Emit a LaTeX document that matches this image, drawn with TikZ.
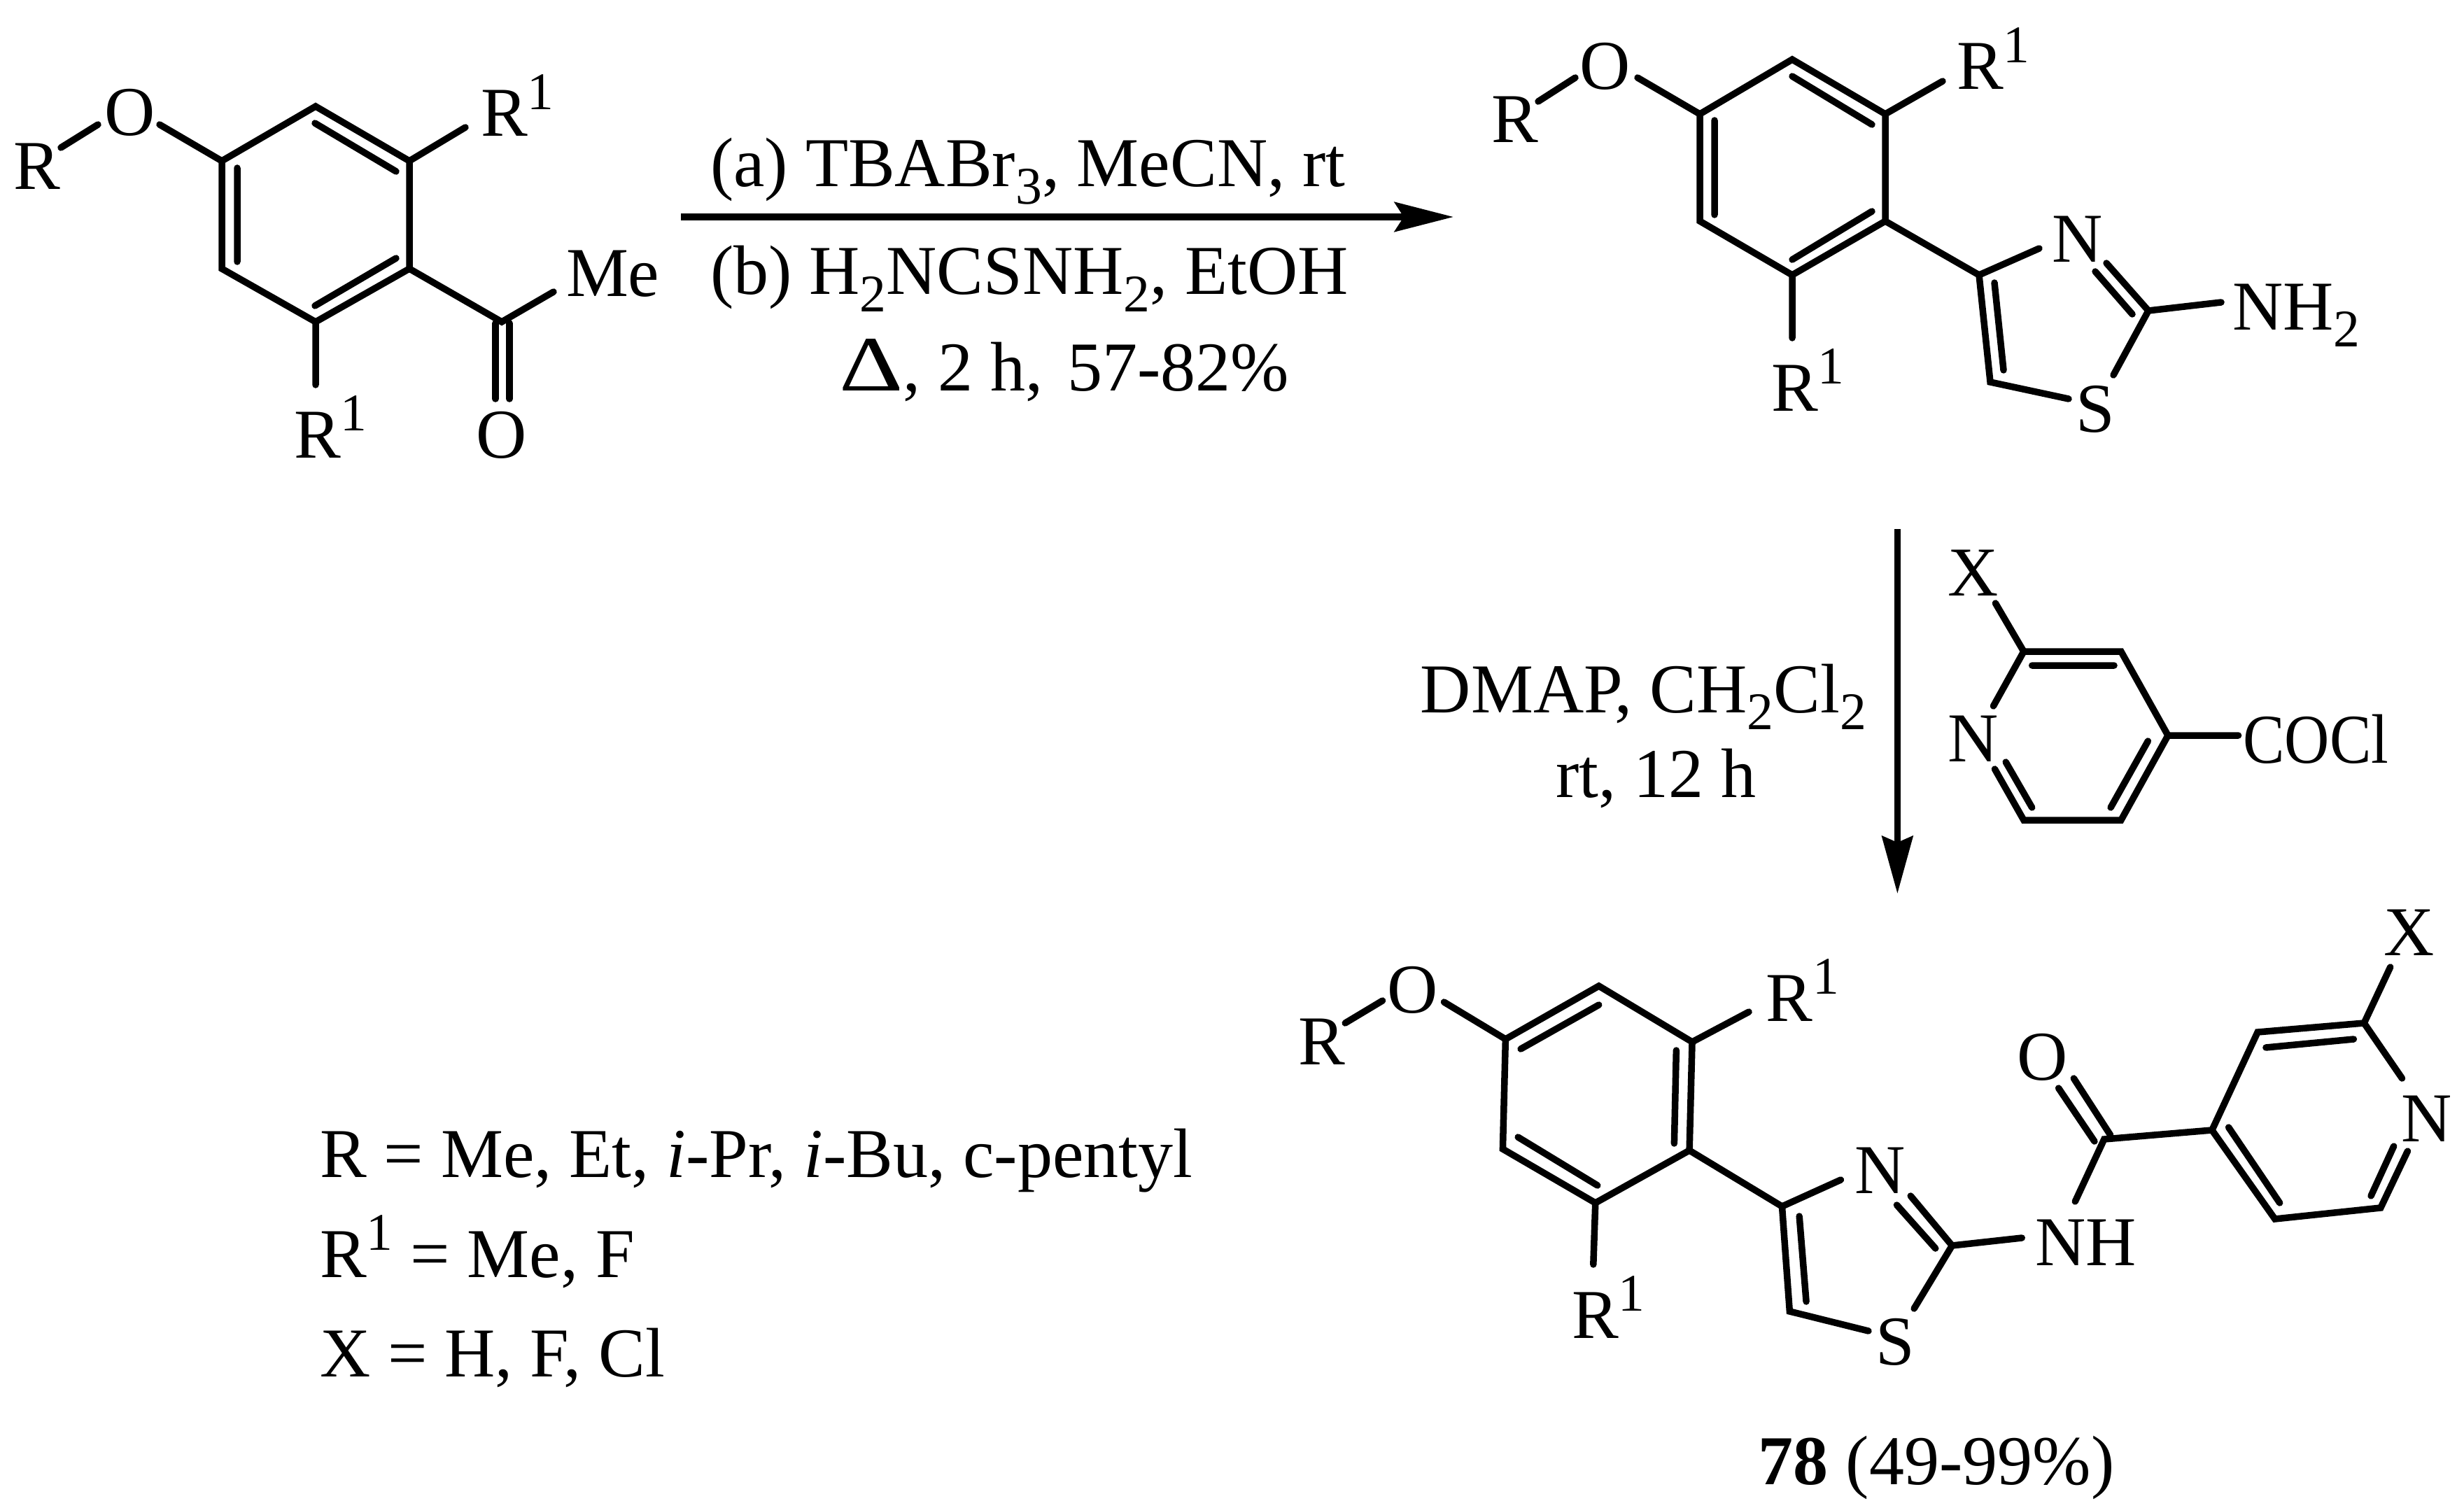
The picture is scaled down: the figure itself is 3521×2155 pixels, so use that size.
\documentclass[tikz,border=0pt]{standalone}
\usepackage{fontspec}
\setmainfont{Liberation Serif}
\usetikzlibrary{arrows.meta}
\newcommand{\atomsub}[1]{\raisebox{-0.24cm}{\fontsize{21.5}{24}\selectfont #1}}
\newcommand{\atomsup}[1]{\raisebox{0.38cm}{\fontsize{21.5}{24}\selectfont #1}}
\tikzset{
  bond/.style={draw=black,line width=0.095cm,line cap=round,line join=miter},
  rxnH/.style={draw=black,line width=0.1cm,-{Stealth[length=0.84cm,width=0.42cm,inset=0.13cm]}},
  rxnV/.style={draw=black,line width=0.09cm,-{Stealth[length=0.82cm,width=0.44cm,inset=0.09cm]}},
  lab/.style={inner sep=0pt,outer sep=0pt,yshift=-0.03cm,font=\fontsize{28.45}{34}\selectfont,text=black},
  labL/.style={lab,anchor=base west},
  labC/.style={lab,anchor=base},
}
\begin{document}
\begin{tikzpicture}[x=0.01cm,y=-0.01cm]
\useasboundingbox (0,0) rectangle (3521,2155);
% ---------- Structure 1
\coordinate (a1) at (451,152); \coordinate (a2) at (585,230); \coordinate (a3) at (585,384);
\coordinate (a4) at (451,460); \coordinate (a5) at (317,384); \coordinate (a6) at (317,230);
\coordinate (a1i) at (450,176); \coordinate (a2i) at (566,245);
\coordinate (a3i) at (566,369); \coordinate (a4i) at (450,437);
\coordinate (a5i) at (339,374); \coordinate (a6i) at (339,240);
\coordinate (aR1) at (665,182); \coordinate (aR2) at (451,550);
\coordinate (aC) at (717,460); \coordinate (aMe) at (791,417);
\coordinate (aOa) at (708,462); \coordinate (aOb) at (708,570);
\coordinate (aOc) at (728,462); \coordinate (aOd) at (728,570);
\coordinate (aOe) at (228,178); \coordinate (aOf) at (140,178); \coordinate (aRe) at (87,211);
\draw[bond] (a6)--(a1)--(a2)--(a3)--(a4)--(a5)--cycle;
\draw[bond] (a1i)--(a2i) (a3i)--(a4i) (a5i)--(a6i);
\draw[bond] (a2)--(aR1) (a4)--(aR2) (a3)--(aC)--(aMe);
\draw[bond] (aOa)--(aOb) (aOc)--(aOd);
\draw[bond] (a6)--(aOe) (aOf)--(aRe);
\node[labL] (aR) at (19,268) {R};
\node[labC] (aO) at (186,191) {O};
\node[labL] (aRa) at (687,192) {R\atomsup{1}};
\node[labL] (aRb) at (420,651) {R\atomsup{1}};
\node[labL] (aM) at (809,420) {Me};
\node[labC] (aOx) at (717,651) {O};
% ---------- Arrow 1
\coordinate (r1s) at (973,310); \coordinate (r1e) at (2077,310);
\draw[rxnH] (r1s)--(r1e);
\node[labL] (c1) at (1015,264) {(a) TBABr\atomsub{3}, MeCN, rt};
\node[labL] (c2) at (1015,418) {(b) H\atomsub{2}NCSNH\atomsub{2}, EtOH};
\node[labL] (c3) at (1199,555) {\scalebox{1.42}[1.12]{Δ}, 2 h,\hspace{0.1cm} 57-82\%};
% ---------- Structure 2
\coordinate (b1) at (2561,85); \coordinate (b2) at (2694,163); \coordinate (b3) at (2694,316);
\coordinate (b4) at (2561,393); \coordinate (b5) at (2429,316); \coordinate (b6) at (2429,163);
\coordinate (b1i) at (2561,109); \coordinate (b2i) at (2675,178);
\coordinate (b3i) at (2675,302); \coordinate (b4i) at (2561,371);
\coordinate (b5i) at (2450,307); \coordinate (b6i) at (2450,172);
\coordinate (bR1) at (2776,116); \coordinate (bR2) at (2561,483);
\coordinate (bT4) at (2828,393); \coordinate (bTN) at (2914,355);
\coordinate (bT5) at (2844,546); \coordinate (bTS) at (2956,570);
\coordinate (bT2) at (3070,444); \coordinate (bTSb) at (3020,536);
\coordinate (bTNb) at (3010,376); \coordinate (bT4i) at (2850,404); \coordinate (bT5i) at (2863,529);
\coordinate (bT2i) at (3047,449); \coordinate (bTNi) at (2994,388);
\coordinate (bNH) at (3174,432);
\coordinate (bOe) at (2340,111); \coordinate (bOf) at (2251,111); \coordinate (bRe) at (2198,145);
\draw[bond] (b6)--(b1)--(b2)--(b3)--(b4)--(b5)--cycle;
\draw[bond] (b1i)--(b2i) (b3i)--(b4i) (b5i)--(b6i);
\draw[bond] (b2)--(bR1) (b4)--(bR2) (b3)--(bT4);
\draw[bond] (bTN)--(bT4)--(bT5)--(bTS) (bTSb)--(bT2)--(bTNb);
\draw[bond] (bT4i)--(bT5i) (bT2i)--(bTNi) (bT2)--(bNH);
\draw[bond] (b6)--(bOe) (bOf)--(bRe);
\node[labL] (bR) at (2131,201) {R};
\node[labC] (bO) at (2294,125) {O};
\node[labL] (bRa) at (2796,125) {R\atomsup{1}};
\node[labL] (bRb) at (2531,584) {R\atomsup{1}};
\node[labC] (bN) at (2969,372) {N};
\node[labC] (bS) at (2994,614) {S};
\node[labL] (bNt) at (3190,468) {NH\atomsub{2}};
% ---------- Arrow 2 and reagent
\begin{scope}[x=0.0098565cm,xshift=0.287cm]
\coordinate (r2s) at (2720,756); \coordinate (r2e) at (2720,1277);
\draw[rxnV] (r2s)--(r2e);
\node[labL] (d1) at (2029,1015) {DMAP, CH\atomsub{2}Cl\atomsub{2}};
\node[labL] (d2) at (2225,1136) {rt, 12 h};
\coordinate (p2) at (2903,931); \coordinate (p3) at (3044,931); \coordinate (p4) at (3112,1051);
\coordinate (p5) at (3044,1172); \coordinate (p6) at (2903,1172);
\coordinate (pNa) at (2859,1009); \coordinate (pNb) at (2861,1099);
\coordinate (p2i) at (2915,951); \coordinate (p3i) at (3034,951);
\coordinate (p6a) at (2877,1089); \coordinate (p6b) at (2915,1154);
\coordinate (p4i) at (3083,1059); \coordinate (p5i) at (3029,1154);
\coordinate (pX) at (2862,862); \coordinate (pC) at (3214,1051);
\draw[bond] (pNa)--(p2)--(p3)--(p4)--(p5)--(p6)--(pNb);
\draw[bond] (p2i)--(p3i) (p6a)--(p6b) (p4i)--(p5i);
\draw[bond] (p2)--(pX) (p4)--(pC);
\node[labC] (pXl) at (2830,848) {X};
\node[labC] (pNl) at (2830,1085) {N};
\node[labL] (pCl) at (3221,1087) {\scalebox{0.89}[1]{COCl}};
\end{scope}
% ---------- Structure 3
\begin{scope}[x=0.0098793cm,xshift=0.2173cm]
\coordinate (c1a) at (2291,1409); \coordinate (c2a) at (2426,1489); \coordinate (c3a) at (2422,1644);
\coordinate (c4a) at (2286,1719); \coordinate (c5a) at (2152,1642); \coordinate (c6a) at (2156,1485);
\coordinate (c6i) at (2178,1499); \coordinate (c1i) at (2291,1436);
\coordinate (c2i) at (2403,1501); \coordinate (c3i) at (2400,1634);
\coordinate (c5i) at (2174,1625); \coordinate (c4i) at (2289,1694);
\coordinate (cR1) at (2508,1446); \coordinate (cR2) at (2283,1807);
\coordinate (cT4) at (2556,1724); \coordinate (cTN) at (2641,1686);
\coordinate (cT5) at (2567,1874); \coordinate (cTS) at (2681,1902);
\coordinate (cT2) at (2802,1780); \coordinate (cTSb) at (2747,1870);
\coordinate (cTNb) at (2742,1709); \coordinate (cT4i) at (2581,1738); \coordinate (cT5i) at (2591,1860);
\coordinate (cT2i) at (2778,1784); \coordinate (cTNi) at (2722,1722);
\coordinate (cNHa) at (2903,1769); \coordinate (cNHb) at (2980,1717);
\coordinate (cCO) at (3022,1628);
\coordinate (cOa) at (3031,1622); \coordinate (cOb) at (2978,1541);
\coordinate (cOc) at (3008,1631); \coordinate (cOd) at (2956,1555);
\coordinate (q4) at (3178,1615); \coordinate (q3) at (3244,1475); \coordinate (q2) at (3398,1462);
\coordinate (qNa) at (3453,1541); \coordinate (qNb) at (3461,1645);
\coordinate (q6) at (3422,1726); \coordinate (q5) at (3269,1742);
\coordinate (q3i) at (3256,1497); \coordinate (q2i) at (3383,1485);
\coordinate (q4i) at (3202,1611); \coordinate (q5i) at (3276,1719);
\coordinate (q6a) at (3441,1638); \coordinate (q6b) at (3408,1709);
\coordinate (qX) at (3436,1382);
\coordinate (cOe) at (2067,1432); \coordinate (cOf) at (1978,1430); \coordinate (cRe) at (1924,1462);
\draw[bond] (c6a)--(c1a)--(c2a)--(c3a)--(c4a)--(c5a)--cycle;
\draw[bond] (c6i)--(c1i) (c2i)--(c3i) (c5i)--(c4i);
\draw[bond] (c2a)--(cR1) (c4a)--(cR2) (c3a)--(cT4);
\draw[bond] (cTN)--(cT4)--(cT5)--(cTS) (cTSb)--(cT2)--(cTNb);
\draw[bond] (cT4i)--(cT5i) (cT2i)--(cTNi) (cNHa)--(cT2);
\draw[bond] (cNHb)--(cCO)--(q4);
\draw[bond] (cOa)--(cOb) (cOc)--(cOd);
\draw[bond] (qNa)--(q2)--(q3)--(q4)--(q5)--(q6)--(qNb);
\draw[bond] (q3i)--(q2i) (q4i)--(q5i) (q6a)--(q6b);
\draw[bond] (q2)--(qX);
\draw[bond] (c6a)--(cOe) (cOf)--(cRe);
\node[labL] (cR) at (1856,1518) {R};
\node[labC] (cO) at (2022,1444) {O};
\node[labL] (cRa) at (2533,1456) {R\atomsup{1}};
\node[labL] (cRb) at (2252,1909) {R\atomsup{1}};
\node[labC] (cN) at (2698,1702) {N};
\node[labC] (cS) at (2720,1947) {S};
\node[labL] (cNH) at (2922,1805) {NH};
\node[labC] (cOx) at (2933,1540) {O};
\node[labC] (cX) at (3463,1362) {X};
\node[labC] (cNp) at (3489,1628) {N};
\node[labL] (cName) at (2522,2118) {\textbf{78} (49-99\%)};
\end{scope}
% ---------- Legend
\node[labL] (l1) at (457,1679) {R = Me, Et, \textit{i}-Pr, \textit{i}-Bu, c-pentyl};
\node[labL] (l2) at (457,1822) {R\atomsup{1} = Me, F};
\node[labL] (l3) at (457,1964) {X = H, F, Cl};
\end{tikzpicture}
\end{document}
